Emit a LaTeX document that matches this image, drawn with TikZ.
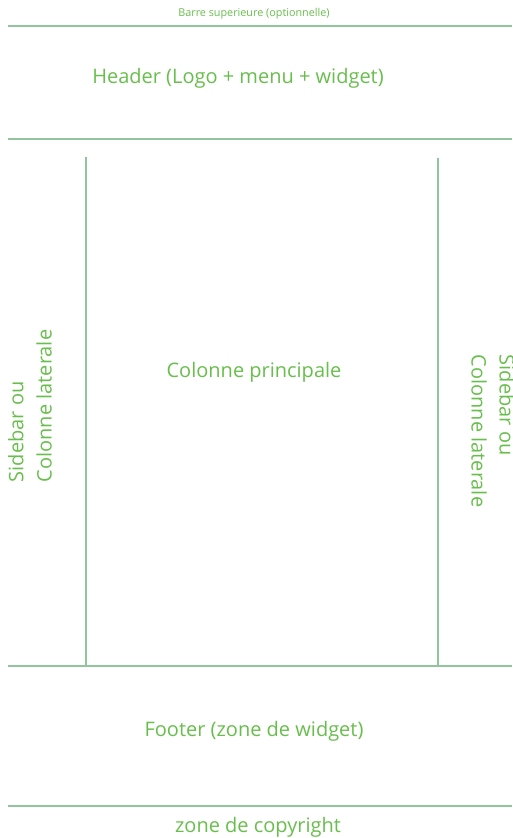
\documentclass[tikz,border=0pt]{standalone}
\usepackage{fontspec}
\setmainfont{Open Sans}
\definecolor{txtgreen}{RGB}{104,190,76}
\definecolor{linegreen}{RGB}{146,196,158}
\tikzset{
  zoneline/.style={draw=linegreen, line width=1.2pt},
  zonelabel/.style={text=txtgreen, inner sep=0pt, font=\fontsize{15}{21}\selectfont},
  sidelabel/.style={zonelabel, align=left}
}
\begin{document}
\begin{tikzpicture}[x=0.75pt, y=-0.75pt]
\useasboundingbox (0,0) rectangle (512,838);
\coordinate (barleft) at (8,26);     \coordinate (barright) at (512,26);
\coordinate (headleft) at (8,139);   \coordinate (headright) at (512,139);
\coordinate (footleft) at (8,666);   \coordinate (footright) at (512,666);
\coordinate (copyleft) at (8,806);   \coordinate (copyright) at (512,806);
\coordinate (sidetopL) at (86,157);  \coordinate (sidebotL) at (86,666);
\coordinate (sidetopR) at (438,158); \coordinate (sidebotR) at (438,666);
\draw [zoneline] (barleft) -- (barright);
\draw [zoneline] (headleft) -- (headright);
\draw [zoneline] (footleft) -- (footright);
\draw [zoneline] (copyleft) -- (copyright);
\draw [zoneline] (sidetopL) -- (sidebotL);
\draw [zoneline] (sidetopR) -- (sidebotR);
\node (barre) [zonelabel, font=\fontsize{8.1}{10}\selectfont] at (254,14) {Barre superieure (optionnelle)};
\node (header) [zonelabel] at (238,78) {Header (Logo + menu + widget)};
\node (main) [zonelabel] at (254,372) {Colonne principale};
\node (leftside) [sidelabel, rotate=90] at (30,406) {Sidebar ou\\Colonne laterale};
\node (rightside) [sidelabel, rotate=-90] at (493,431) {Sidebar ou\\Colonne laterale};
\node (footer) [zonelabel] at (254,731) {Footer (zone de widget)};
\node (copy) [zonelabel] at (258,827) {zone de copyright};
\end{tikzpicture}
\end{document}
